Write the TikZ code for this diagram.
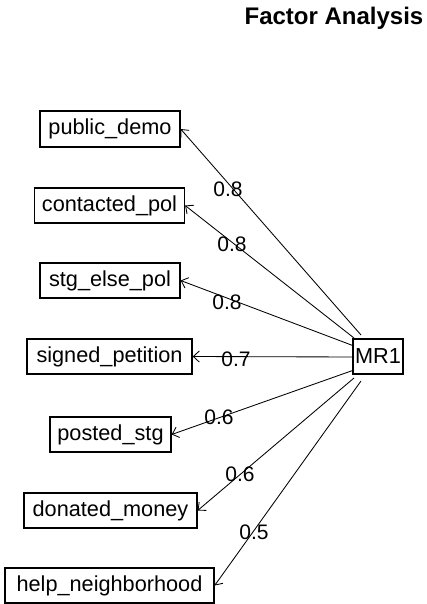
\documentclass[tikz,border=0pt]{standalone}
\usepackage{fontspec}
\setmainfont{Liberation Sans}
\usetikzlibrary{arrows.meta}
\tikzset{
  vbox/.style={draw, line width=1.3pt, inner sep=0pt, font=\fontsize{21.7}{22}\selectfont},
  load/.style={draw, line width=0.85pt, -{Straight Barb[length=6pt,width=11pt]}},
  lbl/.style={inner sep=0pt, font=\fontsize{21}{21}\selectfont}
}
\begin{document}
\begin{tikzpicture}[x=1pt,y=-1pt]
\useasboundingbox[fill=white] (0,0) rectangle (427,604);
\node[anchor=base, font=\fontsize{24}{24}\selectfont\bfseries] (title) at (334,25) {Factor Analysis};
\node[vbox, minimum width=140pt, minimum height=36pt] (v1) at (110,129) {public\_demo};
\node[vbox, minimum width=150pt, minimum height=35pt] (v2) at (109.5,205.5) {contacted\_pol};
\node[vbox, minimum width=140pt, minimum height=35pt] (v3) at (110,280.5) {stg\_else\_pol};
\node[vbox, minimum width=165pt, minimum height=35pt] (v4) at (109.5,356.5) {signed\_petition};
\node[vbox, minimum width=121pt, minimum height=35pt] (v5) at (110.5,434.5) {posted\_stg};
\node[vbox, minimum width=173pt, minimum height=35pt] (v6) at (110.5,510.5) {donated\_money};
\node[vbox, minimum width=209pt, minimum height=35pt] (v7) at (109.5,585.5) {help\_neighborhood};
\node[vbox, minimum width=50pt, minimum height=35pt] (mr) at (378,356.5) {MR1};
\coordinate (s1) at (361,335);
\coordinate (s2) at (354,338);
\coordinate (s3) at (354,346);
\coordinate (s4) at (354,357);
\coordinate (s5) at (354,370);
\coordinate (s6) at (354,378);
\coordinate (s7) at (361,381);
\draw[load] (s1) -- (v1.east);
\draw[load] (s2) -- (v2.east);
\draw[load] (s3) -- (v3.east);
\draw[load] (s4) -- (v4.east);
\draw[load] (s5) -- (v5.east);
\draw[load] (s6) -- (v6.east);
\draw[load] (s7) -- (v7.east);
\node[lbl] (l1) at (228,189) {0.8};
\node[lbl] (l2) at (232,244) {0.8};
\node[lbl] (l3) at (227,302) {0.8};
\node[lbl] (l4) at (236,359) {0.7};
\node[lbl] (l5) at (219,417) {0.6};
\node[lbl] (l6) at (240,474.5) {0.6};
\node[lbl] (l7) at (254,532) {0.5};
\end{tikzpicture}
\end{document}
